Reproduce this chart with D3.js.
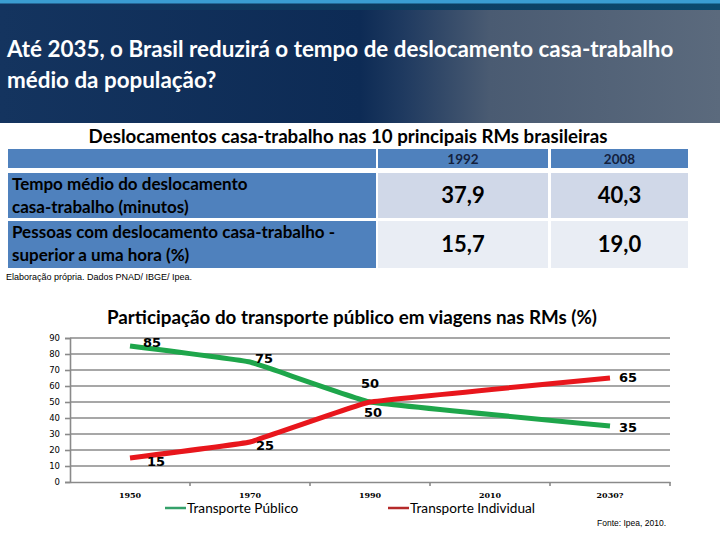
<!DOCTYPE html>
<html><head><meta charset="utf-8">
<script src="https://cdn.jsdelivr.net/npm/d3@7"></script>
<style>body{margin:0;background:#fff}svg{display:block}</style>
</head><body>
<script>
// ---- data ----
const headerTitle = ["Até 2035, o Brasil reduzirá o tempo de deslocamento casa-trabalho", "médio da população?"];
const tableTitle = "Deslocamentos casa-trabalho nas 10 principais RMs brasileiras";
const tableYears = ["1992", "2008"];
const tableRowLabels = [
  ["Tempo médio do deslocamento", "casa-trabalho (minutos)"],
  ["Pessoas com deslocamento casa-trabalho -", "superior a uma hora (%)"]
];
const tempoMedio = [37.9, 40.3];
const pessoasHora = [15.7, 19.0];
const tableNote = "Elaboração própria. Dados PNAD/ IBGE/ Ipea.";

const chartTitle = "Participação do transporte público em viagens nas RMs (%)";
const years = ["1950", "1970", "1990", "2010", "2030?"];
const publico = [85, 75, 50, null, 35];
const individual = [15, 25, 50, null, 65];
const yTickValues = [0, 10, 20, 30, 40, 50, 60, 70, 80, 90];
const seriesNames = ["Transporte Público", "Transporte Individual"];
const sourceNote = "Fonte: Ipea, 2010.";

// ---- drawing ----
const W = 720, H = 540;
const svg = d3.select("body").append("svg").attr("width", W).attr("height", H);
const defs = svg.append("defs");
const g1 = defs.append("linearGradient").attr("id", "hdr").attr("x1", 0).attr("x2", 1).attr("y1", 0).attr("y2", 0);
[[0, "#14345f"], [0.5, "#0d2b55"], [0.56, "#1f3a60"], [0.68, "#4a5b72"], [1, "#5b6a7d"]].forEach(s => g1.append("stop").attr("offset", s[0]).attr("stop-color", s[1]));
const g2 = defs.append("linearGradient").attr("id", "hdr2").attr("x1", 0).attr("x2", 1).attr("y1", 0).attr("y2", 0);
[[0, "#12335f"], [0.5, "#0d3a5e"], [1, "#0b4b6f"]].forEach(s => g2.append("stop").attr("offset", s[0]).attr("stop-color", s[1]));

svg.append("rect").attr("x", 0).attr("y", 0).attr("width", W).attr("height", 123).attr("fill", "url(#hdr)");
svg.append("rect").attr("x", 0).attr("y", 3).attr("width", W).attr("height", 7).attr("fill", "url(#hdr2)");
svg.append("rect").attr("x", 0).attr("y", 0).attr("width", W).attr("height", 3.5).attr("fill", "#3a9dd2");

svg.selectAll("text.hdr").data(headerTitle).join("text").attr("class", "hdr")
  .attr("x", 7).attr("y", (d, i) => 57 + i * 31)
  .attr("fill", "#fff").attr("font-family", "Lato").attr("font-weight", "bold").attr("font-size", 22.4)
  .text(d => d);

// ---- table ----
const font = "Lato";
svg.append("text").attr("x", 348).attr("y", 143).attr("text-anchor", "middle")
  .attr("font-family", font).attr("font-weight", "bold").attr("font-size", 18.7).attr("fill", "#000")
  .text(tableTitle);

const colX = d3.scaleOrdinal().domain(tableYears).range([[378, 548], [551, 688]]);
const rowsY = [[149, 168], [173, 218], [221, 268]];
svg.append("rect").attr("x", 8).attr("y", rowsY[0][0]).attr("width", 368).attr("height", rowsY[0][1] - rowsY[0][0]).attr("fill", "#4f81bd");
tableYears.forEach(yr => {
  const [a, b] = colX(yr);
  svg.append("rect").attr("x", a).attr("y", rowsY[0][0]).attr("width", b - a).attr("height", rowsY[0][1] - rowsY[0][0]).attr("fill", "#4f81bd");
  svg.append("text").attr("x", (a + b) / 2).attr("y", rowsY[0][1] - 4).attr("text-anchor", "middle")
    .attr("font-family", font).attr("font-weight", "bold").attr("font-size", 13.5).attr("fill", "#14213d").text(yr);
});
const rowValues = [tempoMedio, pessoasHora];
const cellFill = ["#d0d8e8", "#e9edf4"];
const fmt = v => d3.format(".1f")(v).replace(".", ",");
rowValues.forEach((vals, r) => {
  const [t, bt] = rowsY[r + 1];
  svg.append("rect").attr("x", 8).attr("y", t).attr("width", 368).attr("height", bt - t).attr("fill", "#4f81bd");
  svg.selectAll(null).data(tableRowLabels[r]).join("text")
    .attr("x", 12).attr("y", (d, i) => t + 17 + i * 23)
    .attr("font-family", font).attr("font-weight", "bold").attr("font-size", 17).attr("fill", "#000").text(d => d);
  vals.forEach((v, c) => {
    const [a, b] = colX(tableYears[c]);
    svg.append("rect").attr("x", a).attr("y", t).attr("width", b - a).attr("height", bt - t).attr("fill", cellFill[r]);
    svg.append("text").attr("x", (a + b) / 2).attr("y", (t + bt) / 2 + 7.5).attr("text-anchor", "middle")
      .attr("font-family", font).attr("font-weight", "bold").attr("font-size", 22).attr("fill", "#000").text(fmt(v));
  });
});
svg.append("text").attr("x", 6).attr("y", 280).attr("font-family", "Liberation Sans Narrow, Liberation Sans").attr("font-size", 9).attr("fill", "#000").text(tableNote);

// ---- line chart ----
svg.append("text").attr("x", 352).attr("y", 324).attr("text-anchor", "middle")
  .attr("font-family", font).attr("font-weight", "bold").attr("font-size", 18.8).attr("fill", "#000").text(chartTitle);

const x = d3.scaleBand().domain(years).range([70, 670]);
const y = d3.scaleLinear().domain([0, 90]).range([482, 338]);
const grid = "#8a8a8a";

svg.append("g").selectAll("line").data(yTickValues.filter(v => v > 0)).join("line")
  .attr("x1", 70).attr("x2", 670).attr("y1", d => y(d)).attr("y2", d => y(d))
  .attr("stroke", grid).attr("stroke-width", 1.6);

const yAxis = svg.append("g").attr("transform", "translate(70,0)")
  .call(d3.axisLeft(y).tickValues(yTickValues).tickSize(5).tickPadding(5));
yAxis.select(".domain").attr("stroke", grid).attr("stroke-width", 1.6);
yAxis.selectAll(".tick line").attr("stroke", grid).attr("stroke-width", 1.6);
yAxis.selectAll("text").attr("font-family", "DejaVu Sans").attr("font-size", 8.5).attr("fill", "#000");

const xAxis = svg.append("g").attr("transform", "translate(0,482)")
  .call(d3.axisBottom(x).tickSize(0).tickPadding(10));
xAxis.select(".domain").attr("stroke", grid).attr("stroke-width", 1.6);
xAxis.selectAll("text").attr("font-family", "DejaVu Serif").attr("font-weight", "bold").attr("font-size", 8).attr("fill", "#000");
xAxis.selectAll("line.bt").data(years).join("line").attr("class", "bt")
  .attr("x1", d => x(d) + x.bandwidth()).attr("x2", d => x(d) + x.bandwidth())
  .attr("y1", 0).attr("y2", 4).attr("stroke", grid).attr("stroke-width", 1.6);

const series = [
  {name: seriesNames[0], values: publico, color: "#1ea64b", legendColor: "#35a16a",
   labelOff: [[22, -4], [14, -4], [3, 10], [0, 0], [18, 1]]},
  {name: seriesNames[1], values: individual, color: "#e8161c", legendColor: "#b52a2a",
   labelOff: [[26, 3], [15, 3], [0, -19], [0, 0], [18, -1]]}
];
const line = d3.line().x(d => x(d.k) + x.bandwidth() / 2).y(d => y(d.v)).curve(d3.curveCardinal.tension(0.8));

series.forEach(s => {
  const pts = years.map((k, i) => ({k, v: s.values[i], i})).filter(d => d.v != null);
  svg.append("path").datum(pts).attr("d", line).attr("fill", "none")
    .attr("stroke", s.color).attr("stroke-width", 5).attr("stroke-linejoin", "round");
  svg.selectAll(null).data(pts).join("text")
    .attr("x", d => x(d.k) + x.bandwidth() / 2 + s.labelOff[d.i][0])
    .attr("y", d => y(d.v) + s.labelOff[d.i][1] + 5)
    .attr("text-anchor", "middle").attr("font-family", "DejaVu Sans").attr("font-weight", "bold")
    .attr("font-size", 13).attr("fill", "#000").text(d => d.v);
});

// legend
const legX = [165, 388];
series.forEach((s, i) => {
  svg.append("line").attr("x1", legX[i]).attr("x2", legX[i] + 21).attr("y1", 508).attr("y2", 508)
    .attr("stroke", s.legendColor).attr("stroke-width", 2.5);
  svg.append("text").attr("x", legX[i] + 22).attr("y", 513).attr("font-family", "Lato")
    .attr("font-size", 13.6).attr("fill", "#000").text(s.name);
});

svg.append("text").attr("x", 597).attr("y", 526).attr("font-family", "Liberation Sans Narrow, Liberation Sans")
  .attr("font-size", 8.5).attr("fill", "#000").text(sourceNote);
</script>
</body></html>
